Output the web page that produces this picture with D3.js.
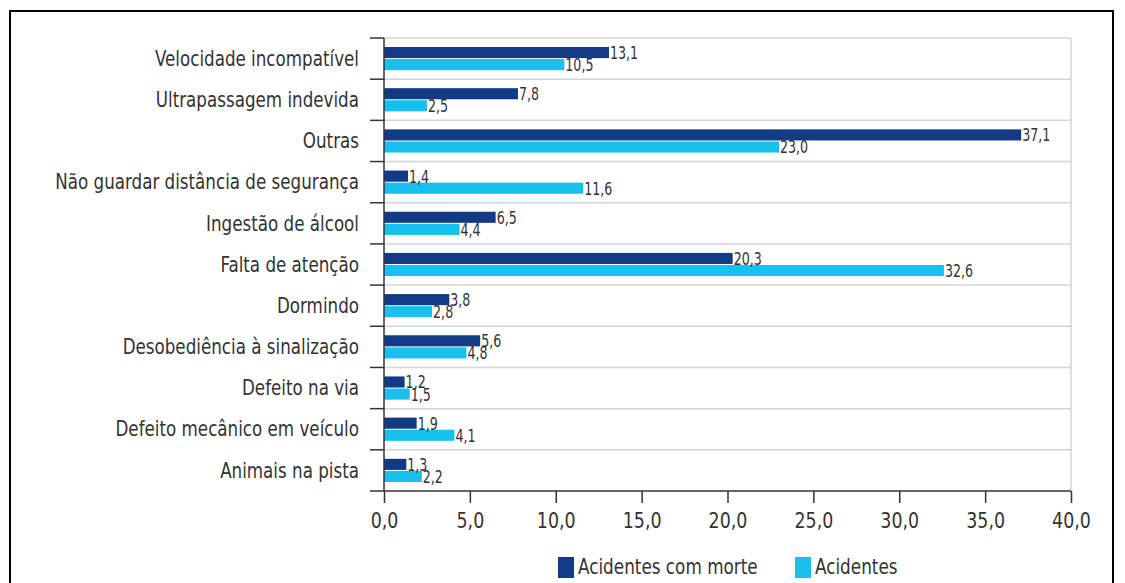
<!DOCTYPE html>
<html>
<head>
<meta charset="utf-8">
<script src="https://cdn.jsdelivr.net/npm/d3@7"></script>
<style>
  html, body { margin: 0; padding: 0; background: #fff; }
  svg { display: block; }
  text { font-family: "DejaVu Sans Condensed", "DejaVu Sans", sans-serif; fill: #333; }
</style>
</head>
<body>
<svg id="chart" width="1125" height="583"></svg>
<script>
// Causes of road accidents (%), ordered top to bottom
const categories = [
  "Velocidade incompatível",
  "Ultrapassagem indevida",
  "Outras",
  "Não guardar distância de segurança",
  "Ingestão de álcool",
  "Falta de atenção",
  "Dormindo",
  "Desobediência à sinalização",
  "Defeito na via",
  "Defeito mecânico em veículo",
  "Animais na pista"
];
const fatalAccidents = [13.1, 7.8, 37.1, 1.4, 6.5, 20.3, 3.8, 5.6, 1.2, 1.9, 1.3];
const allAccidents   = [10.5, 2.5, 23.0, 11.6, 4.4, 32.6, 2.8, 4.8, 1.5, 4.1, 2.2];
const seriesNames = ["Acidentes com morte", "Acidentes"];
const xTicks = [0, 5, 10, 15, 20, 25, 30, 35, 40];

const colors = ["#133a85", "#19c0ee"];
const fmt = v => d3.format(".1f")(v).replace(".", ",");

// narrow a text selection horizontally to give a condensed face
function condense(sel, factor) {
  sel.each(function () {
    const w = this.getComputedTextLength();
    d3.select(this).attr("textLength", w * factor).attr("lengthAdjust", "spacingAndGlyphs");
  });
}

const svg = d3.select("#chart");
const plot = { left: 384, right: 1071, top: 38, bottom: 491 };

const x = d3.scaleLinear().domain([0, 40]).range([plot.left, plot.right]);
const y = d3.scaleBand().domain(categories).range([plot.top, plot.bottom]);
const ySub = d3.scaleBand().domain([0, 1]).range([9, y.bandwidth() - 9]).paddingInner(0.08);

// outer frame
svg.append("path")
  .attr("d", "M10,583 V11 H1113 V583")
  .attr("fill", "none").attr("stroke", "#000").attr("stroke-width", 2);

// horizontal separators between categories
const bounds = categories.map(c => y(c));
svg.append("g").selectAll("line").data(bounds).join("line")
  .attr("x1", plot.left).attr("x2", plot.right)
  .attr("y1", d => d).attr("y2", d => d)
  .attr("stroke", "#d4d4d4").attr("stroke-width", 1.5);

// right border of plot
svg.append("line")
  .attr("x1", plot.right).attr("x2", plot.right)
  .attr("y1", plot.top).attr("y2", plot.bottom)
  .attr("stroke", "#d4d4d4").attr("stroke-width", 1.5);

// bars
const rows = categories.map((c, i) => ({ c, vals: [fatalAccidents[i], allAccidents[i]] }));
const g = svg.append("g").selectAll("g").data(rows).join("g")
  .attr("transform", d => `translate(0,${y(d.c)})`);

g.selectAll("rect").data(d => d.vals.map((v, k) => ({ v, k }))).join("rect")
  .attr("x", x(0))
  .attr("y", d => ySub(d.k))
  .attr("width", d => x(d.v) - x(0))
  .attr("height", ySub.bandwidth())
  .attr("fill", d => colors[d.k]);

g.selectAll("text").data(d => d.vals.map((v, k) => ({ v, k }))).join("text")
  .attr("x", d => x(d.v) + 1)
  .attr("y", d => ySub(d.k) + ySub.bandwidth() / 2)
  .attr("dy", "0.36em")
  .attr("font-size", 18)
  .text(d => fmt(d.v))
  .call(condense, 0.78);

// left axis with category labels
const yAxis = svg.append("g");
yAxis.append("line")
  .attr("x1", plot.left).attr("x2", plot.left)
  .attr("y1", plot.top).attr("y2", plot.bottom)
  .attr("stroke", "#333").attr("stroke-width", 1.5);
yAxis.selectAll("line.tick").data(bounds).join("line").attr("class", "tick")
  .attr("x1", 370).attr("x2", plot.left)
  .attr("y1", d => d).attr("y2", d => d)
  .attr("stroke", "#333").attr("stroke-width", 1.5);
yAxis.selectAll("text").data(categories).join("text")
  .attr("x", 359)
  .attr("y", d => y(d) + y.bandwidth() / 2)
  .attr("dy", "0.33em")
  .attr("text-anchor", "end")
  .attr("font-size", 22)
  .text(d => d)
  .call(condense, 0.845);

// bottom axis
const xAxis = svg.append("g").attr("transform", `translate(0,${plot.bottom})`)
  .call(d3.axisBottom(x).tickValues(xTicks).tickFormat(fmt).tickSize(12).tickPadding(9));
xAxis.select(".domain").attr("stroke", "#333").attr("stroke-width", 1.5)
  .attr("d", `M370,0H${plot.right}`);
xAxis.selectAll(".tick line").attr("stroke", "#333").attr("stroke-width", 1.5);
xAxis.selectAll(".tick text").attr("font-size", 22).attr("fill", "#333")
  .attr("font-family", "DejaVu Sans Condensed, DejaVu Sans, sans-serif")
  .call(condense, 0.88);

// legend
const legend = svg.append("g");
const legendItems = [{ x: 558, name: seriesNames[0], k: 0 }, { x: 795, name: seriesNames[1], k: 1 }];
legendItems.forEach(it => {
  legend.append("rect").attr("x", it.x).attr("y", 557).attr("width", 16).attr("height", 21)
    .attr("fill", colors[it.k]);
  legend.append("text").attr("x", it.x + 20).attr("y", 574)
    .attr("font-size", 22).text(it.name)
    .call(condense, 0.85);
});
</script>
</body>
</html>
